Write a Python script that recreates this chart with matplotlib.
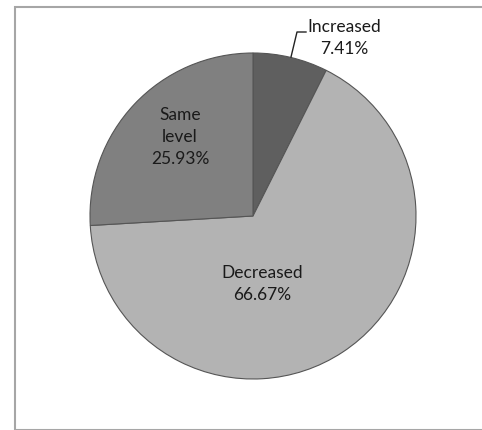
import matplotlib
matplotlib.use("Agg")
import matplotlib.pyplot as plt
from matplotlib.patches import Rectangle

labels = ["Increased", "Decreased", "Same\nlevel"]
shares = [7.41, 66.67, 25.93]
colors = ["#5f5f5f", "#b3b3b3", "#808080"]

plt.rcParams["font.family"] = ["Lato", "DejaVu Sans"]

W, H = 482, 430
fig = plt.figure(figsize=(W / 100, H / 100), dpi=100)
ax = fig.add_axes([0, 0, 1, 1])

cx, cy, r = 253, H - 216, 163
wedges, _ = ax.pie(shares, colors=colors, startangle=90, counterclock=False,
                   center=(cx, cy), radius=r, frame=True,
                   wedgeprops=dict(edgecolor="#555555", linewidth=0.8))
ax.set_xlim(0, W)
ax.set_ylim(0, H)
ax.set_aspect("equal")
ax.axis("off")

# chart area border (right edge runs off the image)
ax.add_patch(Rectangle((15, 0.5), W, H - 7.5, fill=False, edgecolor="#a6a6a6",
                       linewidth=1.5, clip_on=False))

# data labels (positions chosen to match Excel's best-fit layout)
label_pos = [(344, H - 38), (262, H - 284), (180, H - 137)]
for name, val, (x, y) in zip(labels, shares, label_pos):
    ax.text(x, y, f"{name}\n{val:.2f}%", ha="center", va="center",
            fontsize=12.5, color="#1a1a1a", linespacing=1.45)

# leader line for the Increased label
ax.plot([306, 297, 291], [H - 32, H - 32, H - 57], color="#222222",
        linewidth=1.0)

fig.savefig("out.png", dpi=100)
